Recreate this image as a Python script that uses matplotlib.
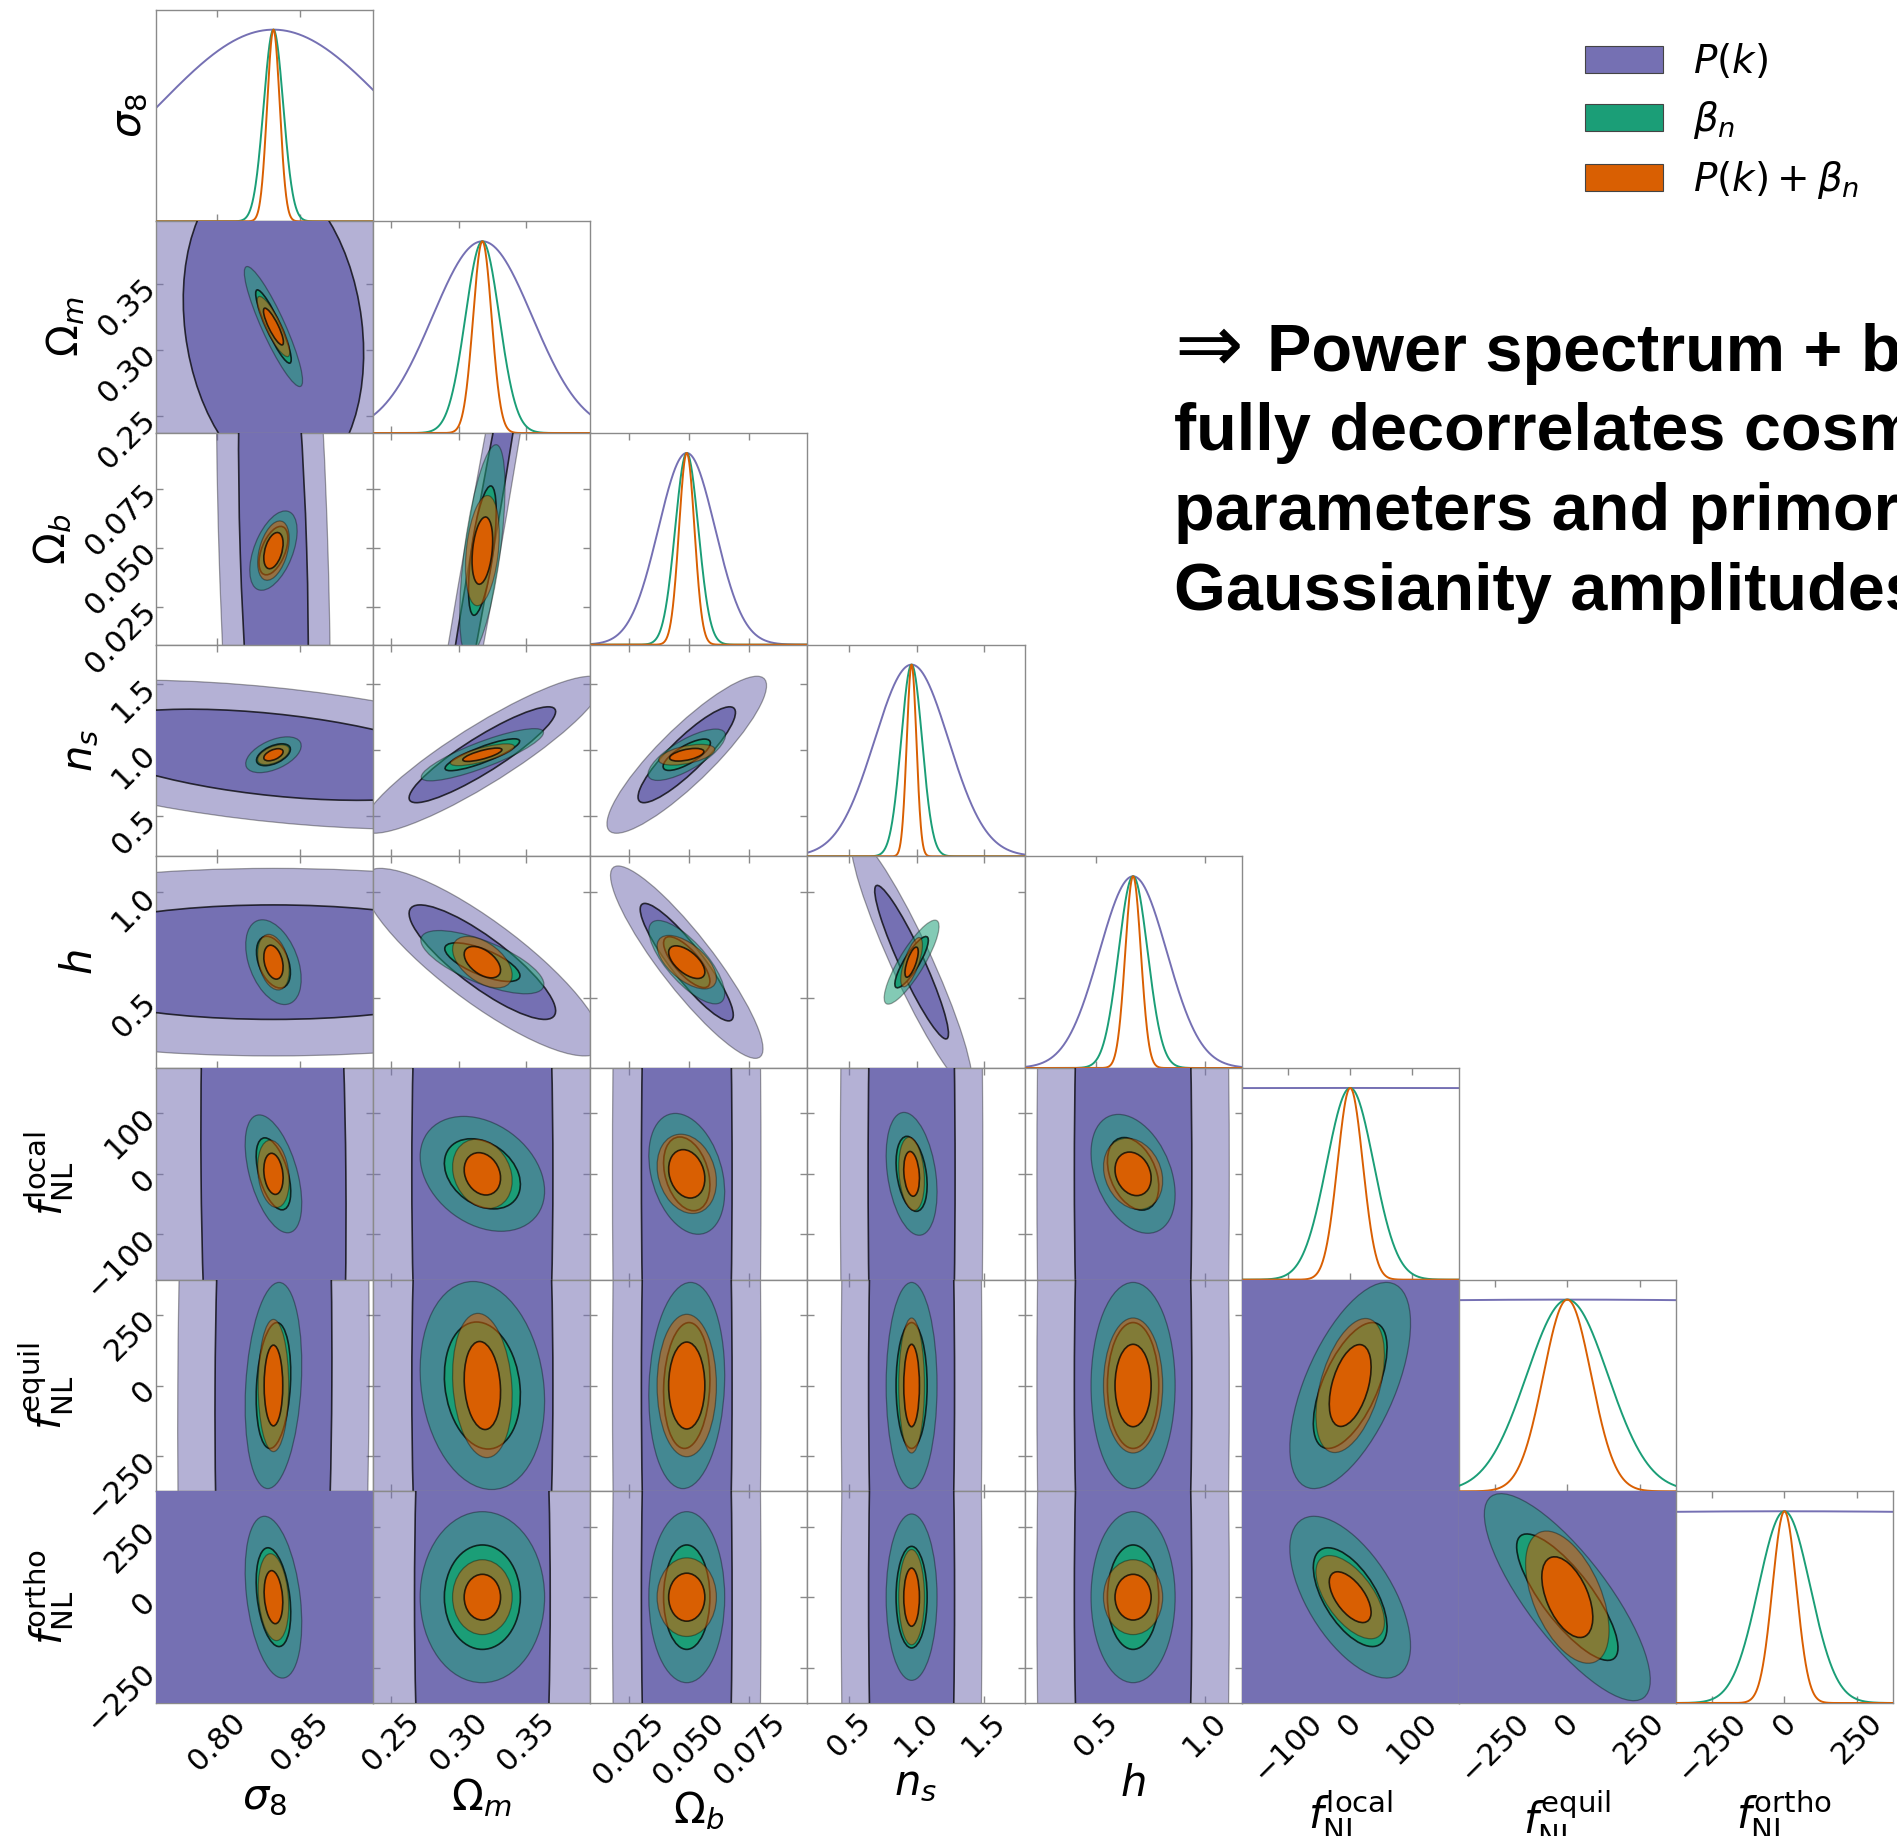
import numpy as np
import matplotlib
matplotlib.use("Agg")
import matplotlib.pyplot as plt
from matplotlib.patches import Ellipse, Patch

# ---------------- data ----------------
param_labels = [r'$\sigma_8$', r'$\Omega_m$', r'$\Omega_b$', r'$n_s$', r'$h$',
                r'$f_{\rm NL}^{\rm local}$', r'$f_{\rm NL}^{\rm equil}$', r'$f_{\rm NL}^{\rm ortho}$']
fiducial = [0.834, 0.3175, 0.049, 0.9624, 0.6711, 0.0, 0.0, 0.0]
axis_lo = [0.7633, 0.237, 0.009, 0.191, 0.172, -175.0, -375.0, -375.0]
axis_hi = [0.894, 0.397, 0.099, 1.798, 1.170, 175.0, 375.0, 375.0]
tick_values = [[0.80, 0.85], [0.25, 0.30, 0.35], [0.025, 0.050, 0.075], [0.5, 1.0, 1.5],
               [0.5, 1.0], [-100, 0, 100], [-250, 0, 250], [-250, 0, 250]]
tick_labels = [["0.80", "0.85"], ["0.25", "0.30", "0.35"], ["0.025", "0.050", "0.075"],
               ["0.5", "1.0", "1.5"], ["0.5", "1.0"], ["\u2212100", "0", "100"],
               ["\u2212250", "0", "250"], ["\u2212250", "0", "250"]]

dataset_names = [r'$P(k)$', r'$\beta_n$', r'$P(k)+\beta_n$']
dataset_colors = ['#7570b3', '#1b9e77', '#d95f02']

# 1D marginal widths (sigma) for the diagonal panels
sigma1d_pk = [0.069, 0.0368, 0.01175, 0.274, 0.155, 5000.0, 5000.0, 5000.0]
sigma1d_bn = [0.0059, 0.0125, 0.0048, 0.0776, 0.067, 37.9, 140.5, 89.3]
sigma1d_pkbn = [0.0038, 0.0068, 0.0032, 0.0356, 0.0358, 20.4, 82.5, 41.2]

# 2D panels: (row, col) pairs, half-widths of the 68% contour along x (col param),
# along y (row param), and correlation coefficient
pairs = [(1, 0), (2, 0), (2, 1), (3, 0), (3, 1), (3, 2), (4, 0), (4, 1), (4, 2), (4, 3),
         (5, 0), (5, 1), (5, 2), (5, 3), (5, 4), (6, 0), (6, 1), (6, 2), (6, 3), (6, 4), (6, 5),
         (7, 0), (7, 1), (7, 2), (7, 3), (7, 4), (7, 5), (7, 6)]

pk_hx = [0.0543, 0.021, 0.0373, 0.117, 0.054, 0.0202, 0.15, 0.054, 0.0193, 0.273,
         0.0437, 0.052, 0.0188, 0.322, 0.27, 0.0352, 0.052, 0.0188, 0.318, 0.27, 600.0,
         0.12, 0.050, 0.0188, 0.318, 0.27, 600.0, 1500.0]
pk_hy = [0.119, 0.15, 0.12, 0.346, 0.364, 0.364, 0.27, 0.27, 0.277, 0.362,
         1000.0, 1000.0, 1000.0, 1000.0, 1000.0, 2000.0, 2000.0, 2000.0, 2000.0, 2000.0, 2000.0,
         2000.0, 2000.0, 2000.0, 2000.0, 2000.0, 2000.0, 2000.0]
pk_rho = [-0.17, -0.3, 0.976, -0.43, 0.9, 0.88, 0.0, -0.85, -0.9, -0.93,
          -0.07, 0.0, 0.0, 0.0, 0.0, 0.05, 0.0, 0.0, 0.0, 0.0, 0.0,
          0.0, 0.0, 0.0, 0.0, 0.0, 0.0, 0.0]

bn_hx = [0.0107, 0.0087, 0.0102, 0.0102, 0.0275, 0.0098, 0.0102, 0.0277, 0.0096, 0.124,
         0.0104, 0.028, 0.0096, 0.115, 0.118, 0.0104, 0.028, 0.0096, 0.115, 0.118, 59.4,
         0.0104, 0.028, 0.0096, 0.115, 0.118, 59.4, 175.0]
bn_hy = [0.0277, 0.0103, 0.0275, 0.083, 0.121, 0.119, 0.122, 0.091, 0.12, 0.121,
         59.5, 58.0, 61.0, 62.0, 60.0, 223.0, 225.0, 223.0, 223.0, 223.0, 223.0,
         175.0, 185.0, 185.0, 180.0, 185.0, 175.0, 224.0]
bn_rho = [-0.9, 0.5, 0.6, 0.5, 0.85, 0.75, -0.4, -0.7, -0.75, 0.85,
          -0.5, -0.3, -0.3, -0.3, -0.35, 0.2, -0.15, 0.1, 0.0, 0.0, 0.6,
          -0.32, 0.0, 0.0, 0.0, 0.0, -0.6, -0.8]

pkbn_hx = [0.0060, 0.0058, 0.0076, 0.0058, 0.0144, 0.0071, 0.0058, 0.0134, 0.0075, 0.049,
           0.0058, 0.0134, 0.0075, 0.058, 0.083, 0.0056, 0.0134, 0.0075, 0.058, 0.083, 33.7,
           0.0056, 0.0134, 0.0075, 0.058, 0.083, 33.7, 88.0]
pkbn_hy = [0.0139, 0.0077, 0.0143, 0.046, 0.0506, 0.048, 0.08, 0.074, 0.077, 0.071,
           34.0, 35.0, 40.0, 37.0, 36.0, 143.0, 156.0, 154.0, 146.0, 146.0, 145.0,
           94.0, 81.0, 85.0, 103.0, 81.0, 90.0, 143.0]
pkbn_rho = [-0.85, 0.4, 0.3, 0.5, 0.75, 0.5, -0.3, -0.5, -0.6, 0.7,
            -0.2, -0.2, -0.2, -0.2, -0.2, 0.0, -0.15, 0.0, 0.0, 0.0, 0.45,
            -0.2, 0.0, 0.0, 0.0, 0.0, -0.6, -0.5]

# chi^2 levels (2 dof) for the 68% and 95% contours
chi2_levels = [2.30, 6.17]

# ---------------- figure ----------------
W, H = 1897, 1836
fig = plt.figure(figsize=(W / 100, H / 100), dpi=100)
n = len(param_labels)
gs = fig.add_gridspec(n, n, left=156 / W, right=1893 / W, top=1 - 9.7 / H, bottom=1 - 1703 / H,
                      wspace=0, hspace=0)

spine_col = '#8a8a8a'
tick_fs = 22
label_fs = 30

sig1d = [sigma1d_pk, sigma1d_bn, sigma1d_pkbn]
hx_all = [pk_hx, bn_hx, pkbn_hx]
hy_all = [pk_hy, bn_hy, pkbn_hy]
rho_all = [pk_rho, bn_rho, pkbn_rho]


def add_ellipse(ax, mx, my, hx, hy, rho, scale, color, face_alpha, edge_alpha, lw, z):
    cov = np.array([[hx * hx, rho * hx * hy], [rho * hx * hy, hy * hy]]) * scale ** 2
    vals, vecs = np.linalg.eigh(cov)
    k = np.argmax(vals)
    angle = np.degrees(np.arctan2(vecs[1, k], vecs[0, k]))
    a = 2 * np.sqrt(vals[k])
    b = 2 * np.sqrt(vals[1 - k])
    e = Ellipse((mx, my), a, b, angle=angle, facecolor=matplotlib.colors.to_rgba(color, face_alpha),
                edgecolor=(0, 0, 0, edge_alpha), lw=lw, zorder=z)
    ax.add_patch(e)


axes = {}
for i in range(n):
    for j in range(i + 1):
        ax = fig.add_subplot(gs[i, j])
        axes[(i, j)] = ax
        for s in ax.spines.values():
            s.set_color(spine_col)
            s.set_linewidth(1.0)
        ax.set_xlim(axis_lo[j], axis_hi[j])
        ax.set_xticks(tick_values[j])
        if i == j:
            x = np.linspace(axis_lo[j], axis_hi[j], 600)
            for d in range(3):
                y = np.exp(-0.5 * ((x - fiducial[j]) / sig1d[d][j]) ** 2)
                ax.plot(x, y, color=dataset_colors[d], lw=1.4, zorder=2 + d)
            ax.set_ylim(0, 1.104)
            ax.set_yticks([])
            ax.tick_params(axis='x', direction='in', top=True, bottom=True, length=5, width=1,
                           color=spine_col, labelsize=tick_fs)
        else:
            ax.set_ylim(axis_lo[i], axis_hi[i])
            ax.set_yticks(tick_values[i])
            ax.tick_params(direction='in', top=True, bottom=True, left=True, right=True,
                           length=5, width=1, color=spine_col, labelsize=tick_fs)
            p = pairs.index((i, j))
            for d in range(3):
                hx, hy, rho = hx_all[d][p], hy_all[d][p], rho_all[d][p]
                outer = np.sqrt(chi2_levels[1] / chi2_levels[0])
                add_ellipse(ax, fiducial[j], fiducial[i], hx, hy, rho, outer,
                            dataset_colors[d], 0.54, 0.35, 0.9, 2 + 2 * d)
                add_ellipse(ax, fiducial[j], fiducial[i], hx, hy, rho, 1.0,
                            dataset_colors[d], 1.0, 0.75, 1.2, 3 + 2 * d)
        if i == n - 1:
            ax.set_xticklabels(tick_labels[j], rotation=45)
            ax.set_xlabel(param_labels[j], fontsize=label_fs, labelpad=0)
        else:
            ax.tick_params(axis='x', labelbottom=False)
        if j == 0 and i > 0:
            ax.set_yticklabels(tick_labels[i], rotation=45, rotation_mode='anchor',
                               ha='right', va='center')
            ax.set_ylabel(param_labels[i], fontsize=label_fs)
        elif j == 0 and i == 0:
            ax.set_ylabel(param_labels[i], fontsize=label_fs)
        else:
            ax.tick_params(axis='y', labelleft=False)

handles = [Patch(facecolor=c, edgecolor='#444444', lw=0.8, label=l)
           for c, l in zip(dataset_colors, dataset_names)]
fig.legend(handles=handles, loc='upper left', bbox_to_anchor=(1585 / W, 1 - 42 / H),
           frameon=False, fontsize=28, handlelength=2.0, handleheight=0.69,
           handletextpad=0.77, labelspacing=0.465, borderpad=0, borderaxespad=0)

# annotation text
text_font = ['Liberation Sans', 'DejaVu Sans']
fig.text(1174 / W, 1 - 371 / H, "\u21d2", fontsize=59, family='DejaVu Sans',
         va='baseline', ha='left')
fig.text(1267 / W, 1 - 371 / H, "Power spectrum + bispectrum",
         fontsize=48, fontweight='bold', family=text_font, va='baseline', ha='left')
fig.text(1174 / W, 1 - 402 / H,
         "fully decorrelates cosmological\nparameters and primordial non-\n"
         "Gaussianity amplitudes",
         fontsize=48, fontweight='bold', family=text_font,
         va='top', ha='left', linespacing=1.37)

fig.savefig("out.png", dpi=100)
